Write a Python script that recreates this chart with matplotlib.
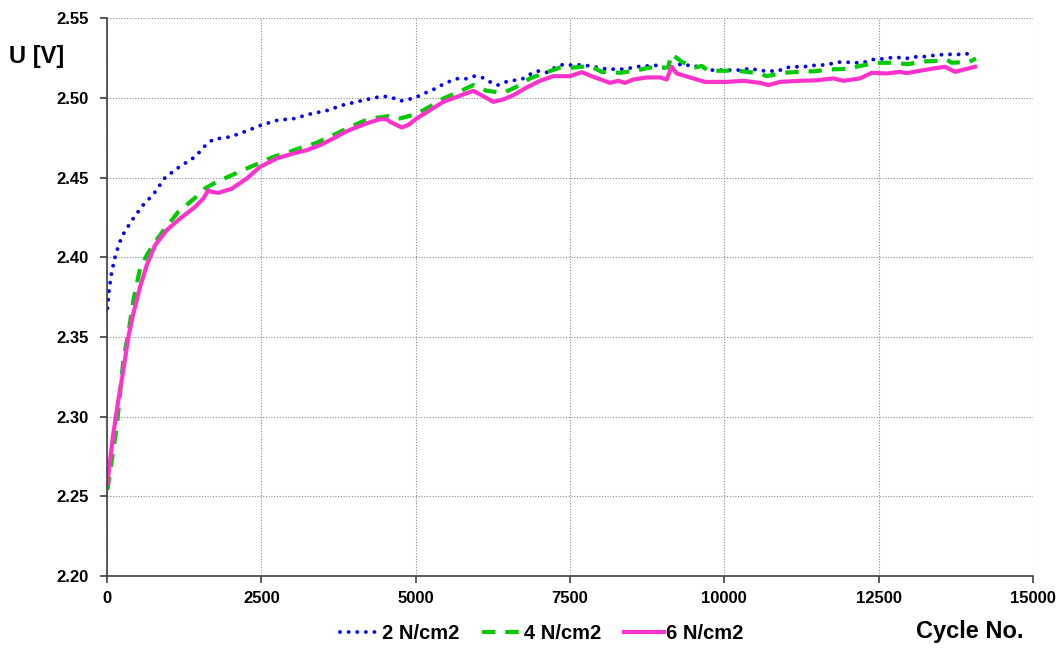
import numpy as np
import matplotlib.pyplot as plt

plt.rcParams['font.family'] = ['Liberation Sans', 'DejaVu Sans']
plt.rcParams['font.weight'] = 'bold'

# cycle number vs. cell voltage
blue_x = [5, 32, 76, 141, 238, 400, 567, 761, 940, 1183,
          1426, 1615, 1722, 1993, 2247, 2506, 2765, 3029, 3305, 3559,
          3823, 4098, 4325, 4476, 4612, 4746, 4881, 5017, 5151, 5276,
          5394, 5529, 5665, 5815, 5945, 6086, 6204, 6329, 6463, 6598,
          6734, 6863, 7003, 7123, 7257, 7392, 7528, 7678, 7824, 7959,
          8095, 8229, 8364, 8526, 8662, 8797, 8931, 9067, 9201, 9336,
          9472, 9606, 9741, 9886, 10022, 10157, 10291, 10427, 10566, 10712,
          10858, 10999, 11145, 11290, 11432, 11571, 11717, 11846, 11971, 12106,
          12246, 12381, 12522, 12656, 12792, 12927, 13061, 13202, 13348, 13478,
          13612, 13748, 13887, 14023]
blue_y = [2.368, 2.379, 2.391, 2.402, 2.413, 2.423, 2.432, 2.440, 2.450, 2.457,
          2.463, 2.471, 2.474, 2.4755, 2.479, 2.483, 2.486, 2.487, 2.490, 2.492,
          2.4955, 2.498, 2.500, 2.501, 2.5003, 2.498, 2.499, 2.5006, 2.503, 2.505,
          2.5075, 2.510, 2.512, 2.512, 2.5136, 2.5126, 2.510, 2.508, 2.510, 2.511,
          2.512, 2.515, 2.517, 2.516, 2.519, 2.521, 2.5205, 2.5207, 2.520, 2.519,
          2.518, 2.518, 2.518, 2.519, 2.520, 2.520, 2.5205, 2.518, 2.520, 2.5216,
          2.5195, 2.520, 2.5174, 2.5174, 2.5174, 2.5174, 2.5174, 2.5186, 2.517, 2.517,
          2.5166, 2.519, 2.5195, 2.5195, 2.5203, 2.5205, 2.5213, 2.5224, 2.5224, 2.522,
          2.522, 2.524, 2.5243, 2.525, 2.5255, 2.5245, 2.5257, 2.5257, 2.5264, 2.527,
          2.5272, 2.5274, 2.527, 2.5289]

green_x = [5, 157, 264, 361, 426, 535, 643, 778, 886, 1155,
           1479, 1588, 1777, 1965, 2263, 2451, 2694, 2911, 3180, 3369,
           3666, 3828, 4126, 4288, 4557, 4746, 5017, 5232, 5448, 5665,
           5934, 6151, 6420, 6637, 6852, 7068, 7338, 7554, 7824, 8014,
           8310, 8553, 8796, 9012, 9088, 9147, 9309, 9525, 9634, 9741,
           10039, 10145, 10578, 10686, 10955, 11199, 11469, 11712, 11982, 12198,
           12468, 12711, 12980, 13197, 13466, 13602, 13683, 13968, 14077]
green_y = [2.254, 2.2936, 2.3355, 2.3563, 2.373, 2.393, 2.4013, 2.4097, 2.4153, 2.4285,
           2.439, 2.4432, 2.4473, 2.4505, 2.4557, 2.4588, 2.463, 2.4655, 2.4693, 2.4714,
           2.4766, 2.4797, 2.485, 2.4871, 2.4885, 2.4871, 2.4898, 2.4946, 2.4996, 2.5031,
           2.508, 2.5044, 2.5031, 2.507, 2.5122, 2.5153, 2.519, 2.519, 2.520, 2.5163,
           2.5157, 2.517, 2.519, 2.519, 2.519, 2.5274, 2.5226, 2.519, 2.520, 2.517,
           2.517, 2.5174, 2.5153, 2.5136, 2.5157, 2.5163, 2.5167, 2.5178, 2.5182, 2.520,
           2.522, 2.522, 2.5211, 2.5228, 2.5232, 2.524, 2.522, 2.5226, 2.5247]

pink_x = [5, 49, 102, 183, 264, 345, 426, 535, 643, 778,
          967, 1183, 1426, 1560, 1641, 1696, 1803, 2020, 2263, 2478,
          2749, 3018, 3235, 3450, 3666, 3828, 3990, 4207, 4422, 4531,
          4584, 4774, 4881, 5017, 5232, 5448, 5665, 5934, 6096, 6258,
          6420, 6582, 6799, 7014, 7230, 7500, 7690, 7878, 8148, 8283,
          8391, 8526, 8743, 8958, 9067, 9147, 9228, 9444, 9687, 10039,
          10307, 10578, 10712, 10902, 11226, 11496, 11765, 11927, 12198, 12387,
          12630, 12846, 12954, 13170, 13385, 13575, 13737, 13927, 14061]
pink_y = [2.258, 2.2727, 2.2895, 2.3104, 2.3292, 2.350, 2.3647, 2.3815, 2.395, 2.4076,
          2.417, 2.4243, 2.4316, 2.4369, 2.442, 2.441, 2.4404, 2.443, 2.4494, 2.4567,
          2.462, 2.4651, 2.4672, 2.4703, 2.4745, 2.478, 2.4808, 2.484, 2.4866, 2.4866,
          2.485, 2.4814, 2.483, 2.4871, 2.4923, 2.4975, 2.5006, 2.5044, 2.501, 2.4975,
          2.499, 2.5017, 2.5065, 2.5107, 2.5136, 2.5136, 2.5161, 2.5132, 2.5094, 2.5107,
          2.5094, 2.5115, 2.5128, 2.5128, 2.5115, 2.5195, 2.5153, 2.5128, 2.510, 2.510,
          2.5107, 2.5094, 2.508, 2.510, 2.5107, 2.511, 2.5122, 2.5107, 2.5122, 2.5157,
          2.5153, 2.5163, 2.5155, 2.517, 2.5184, 2.5195, 2.5163, 2.5182, 2.5195]

labels = ['2 N/cm2', '4 N/cm2', '6 N/cm2']

fig = plt.figure(figsize=(10.6, 6.48), dpi=100)
ax = fig.add_axes([0.101, 0.111, 0.8735, 0.861])

ax.plot(blue_x, blue_y, color='#0000FF', lw=2.8, linestyle=(0, (0.01, 2.2)),
        dash_capstyle='round', label=labels[0])
ax.plot(green_x, green_y, color='#00CC00', lw=3, linestyle=(0, (3.2, 2.4)),
        label=labels[1])
ax.plot(pink_x, pink_y, color='#FF33CC', lw=3, label=labels[2])

ax.set_xlim(0, 15000)
ax.set_ylim(2.20, 2.55)
ax.set_xticks(np.arange(0, 15001, 2500))
ax.set_yticks(np.arange(2.20, 2.551, 0.05))
ax.set_yticklabels(['%.2f' % v for v in np.arange(2.20, 2.551, 0.05)])

ax.grid(True, color='#8c8c8c', linestyle=(0, (1, 1.5)), linewidth=0.8)
ax.set_axisbelow(True)
for s in ['top', 'right']:
    ax.spines[s].set_visible(False)
for s in ['left', 'bottom']:
    ax.spines[s].set_color('#404040')
    ax.spines[s].set_linewidth(1.2)
ax.tick_params(axis='both', direction='out', length=5, width=1.2, color='#404040',
               labelsize=12)
ax.tick_params(axis='y', pad=8)
ax.tick_params(axis='x', pad=6)

fig.text(0.035, 1 - 57 / 648, 'U [V]', ha='center', va='center', fontsize=17)
fig.text(0.915, 0.025, 'Cycle No.', ha='center', va='center', fontsize=17)

fig.legend(loc='center', bbox_to_anchor=(0.511, 0.022), ncol=3, frameon=False,
           handlelength=2, handletextpad=0.1, columnspacing=1.1, fontsize=14.5)

fig.savefig('out.png', dpi=100)
